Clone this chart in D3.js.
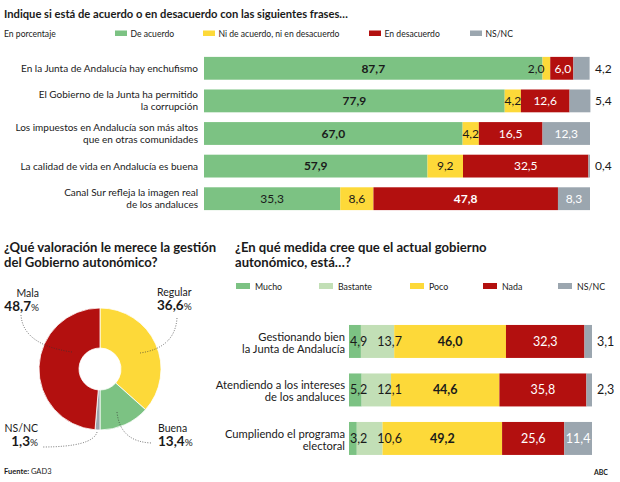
<!DOCTYPE html>
<html><head><meta charset="utf-8">
<script src="https://cdn.jsdelivr.net/npm/d3@7"></script>
<style>
body{margin:0;background:#fff;}
svg{display:block;font-family:Lato, "Open Sans", sans-serif;}
</style></head>
<body>
<svg id="chart" width="620" height="482"></svg>
<script>
// ---------- DATA ----------
const topTitle = "Indique si está de acuerdo o en desacuerdo con las siguientes frases…";
const topSubtitle = "En porcentaje";
const topLegend = ["De acuerdo", "Ni de acuerdo, ni en desacuerdo", "En desacuerdo", "NS/NC"];
const topCategories = [
  ["En la Junta de Andalucía hay enchufismo"],
  ["El Gobierno de la Junta ha permitido", "la corrupción"],
  ["Los impuestos en Andalucía son más altos", "que en otras comunidades"],
  ["La calidad de vida en Andalucía es buena"],
  ["Canal Sur refleja la imagen real", "de los andaluces"]
];
const topAgree    = [87.7, 77.9, 67.0, 57.9, 35.3];
const topNeutral  = [2.0, 4.2, 4.2, 9.2, 8.6];
const topDisagree = [6.0, 12.6, 16.5, 32.5, 47.8];
const topNsnc     = [4.2, 5.4, 12.3, 0.4, 8.3];

const donutTitle = ["¿Qué valoración le merece la gestión", "del Gobierno autonómico?"];
const donutLabels = ["Regular", "Buena", "NS/NC", "Mala"];
const donutValues = [36.6, 13.4, 1.3, 48.7];

const botTitle = ["¿En qué medida cree que el actual gobierno", "autonómico, está…?"];
const botLegend = ["Mucho", "Bastante", "Poco", "Nada", "NS/NC"];
const botCategories = [
  ["Gestionando bien", "la Junta de Andalucía"],
  ["Atendiendo a los intereses", "de los andaluces"],
  ["Cumpliendo el programa", "electoral"]
];
const botMucho    = [4.9, 5.2, 3.2];
const botBastante = [13.7, 12.1, 10.6];
const botPoco     = [46.0, 44.6, 49.2];
const botNada     = [32.3, 35.8, 25.6];
const botNsnc     = [3.1, 2.3, 11.4];

const source = "GAD3";
const credit = "ABC";

// ---------- STYLE ----------
const C = {green:"#7cc283", light:"#c2dfb6", yellow:"#fdd939", red:"#b3100f", gray:"#9ba6af", text:"#1a1a1a"};
const fmt = v => d3.format(".1f")(v).replace(".", ",");

const svg = d3.select("#chart");

// ---------- TOP SECTION ----------
svg.append("text").attr("x", 4).attr("y", 18).attr("font-size", 11.2).attr("font-weight", 700)
  .attr("fill", C.text).text(topTitle);
svg.append("text").attr("x", 4).attr("y", 36.5).attr("font-size", 8.6).attr("fill", C.text).text(topSubtitle);

const topColors = [C.green, C.yellow, C.red, C.gray];
const topLegX = d3.scaleOrdinal().domain(topLegend).range([115, 203, 369, 470]);
topLegend.forEach((k, i) => {
  const g = svg.append("g").attr("transform", `translate(${topLegX(k)},0)`);
  g.append("rect").attr("x", 0).attr("y", 30.5).attr("width", 12).attr("height", 5.5).attr("fill", topColors[i]);
  g.append("text").attr("x", 15.5).attr("y", 36.5).attr("font-size", 8.6).attr("fill", C.text).text(k);
});

const topX = d3.scaleLinear().domain([0, 100]).range([204, 590]);
const topY = d3.scaleBand().domain(d3.range(topCategories.length)).range([52, 215]).paddingInner(0.3).paddingOuter(0.15);
const topSeries = [topAgree, topNeutral, topDisagree, topNsnc];

function drawRows(cats, series, colors, xS, yS, opt) {
  const barLayer = svg.append("g");
  const txtLayer = svg.append("g");
  cats.forEach((lines, r) => {
    const y0 = yS(r), bh = yS.bandwidth(), cy = y0 + bh / 2;
    const t = txtLayer.append("text").attr("x", opt.labelX).attr("text-anchor", "end")
      .attr("font-size", opt.labelSize).attr("fill", C.text);
    const n = lines.length;
    lines.forEach((l, j) => {
      t.append("tspan").attr("x", opt.labelX)
        .attr("y", cy + (j - (n - 1) / 2) * opt.lineH + opt.labelSize * 0.35 + opt.labelDy).text(l);
    });
    const vals = series.map(s => s[r]);
    const maxV = d3.max(vals);
    let acc = 0;
    let prevRight = -Infinity;
    vals.forEach((v, i) => {
      const x0 = xS(acc), x1 = xS(acc + v);
      acc += v;
      barLayer.append("rect").attr("x", x0).attr("y", y0).attr("width", Math.max(0, x1 - x0)).attr("height", bh).attr("fill", colors[i]);
      const w = x1 - x0;
      const last = i === vals.length - 1;
      const txt = txtLayer.append("text").attr("y", cy + opt.numSize * 0.36).attr("font-size", opt.numSize)
        .attr("font-weight", v === maxV ? 700 : 400).text(fmt(v));
      const tw = txt.node().getComputedTextLength();
      if (last && w < 25) {
        txt.attr("x", xS(100) + 5).attr("text-anchor", "start").attr("fill", C.text).attr("font-weight", 400);
        return;
      }
      const light = colors[i] === C.red || colors[i] === C.gray;
      txt.attr("fill", light ? "#fff" : C.text).attr("text-anchor", "start");
      let left;
      if (w < tw + 2 && i === 0) left = x0 + 1;
      else if (w < 10) left = x0 + 2 - tw;
      else left = (x0 + x1) / 2 - tw / 2;
      if (left < prevRight + 10 && w >= 10) left = prevRight + 10;
      txt.attr("x", left);
      prevRight = left + tw;
    });
  });
}
drawRows(topCategories, topSeries, topColors, topX, topY, {labelX: 198, labelSize: 10, lineH: 12, numSize: 12, labelDy: 0});

// ---------- DONUT ----------
donutTitle.forEach((l, i) => svg.append("text").attr("x", 4).attr("y", 252 + i * 15).attr("font-size", 13.1)
  .attr("font-weight", 700).attr("fill", C.text).text(l));
const donutColors = [C.yellow, C.green, C.gray, C.red];
const cx = 100, cyD = 369;
const pie = d3.pie().sort(null).value(d => d)(donutValues);
const arc = d3.arc().innerRadius(21).outerRadius(61);
const gD = svg.append("g").attr("transform", `translate(${cx},${cyD})`);
gD.selectAll("path").data(pie).join("path").attr("d", arc).attr("fill", (d, i) => donutColors[i])
  .attr("stroke", "#fff").attr("stroke-width", 0.8);

// label layout (annotation positions relative to donut center)
const donutAnn = [
  {lx: 57, ly: -73, anchor: "start", line: [[77, -51], [75, -21], [40, -16]]},   // Regular
  {lx: 58, ly: 63, anchor: "start", line: [[17, 43], [20, 73], [52, 74]]},       // Buena
  {lx: -62, ly: 63, anchor: "end", line: [[-3, 63], [-7, 78], [-58, 78]]},       // NS/NC
  {lx: -61, ly: -72, anchor: "end", line: [[-79, -54], [-77, -24], [-28, -17]]}  // Mala
];
donutLabels.forEach((lab, i) => {
  const a = donutAnn[i];
  gD.append("text").attr("x", a.lx).attr("y", a.ly).attr("text-anchor", a.anchor)
    .attr("font-size", 10.5).attr("fill", C.text).text(lab);
  const t = gD.append("text").attr("x", a.lx).attr("y", a.ly + 14).attr("text-anchor", a.anchor).attr("fill", C.text);
  t.append("tspan").attr("font-size", 13.5).attr("font-weight", 700).text(fmt(donutValues[i]));
  t.append("tspan").attr("font-size", 10).text("%");
  const p = a.line;
  gD.append("path").attr("d", `M${p[0][0]},${p[0][1]} Q${p[1][0]},${p[1][1]} ${p[2][0]},${p[2][1]}`)
    .attr("fill", "none").attr("stroke", "#333").attr("stroke-width", 0.7).attr("stroke-dasharray", "1,1.5");
});

// ---------- BOTTOM RIGHT ----------
botTitle.forEach((l, i) => svg.append("text").attr("x", 235).attr("y", 252 + i * 15).attr("font-size", 13.1)
  .attr("font-weight", 700).attr("fill", C.text).text(l));
const botColors = [C.green, C.light, C.yellow, C.red, C.gray];
const botLegX = d3.scaleOrdinal().domain(botLegend).range([236, 319, 410, 483, 558]);
botLegend.forEach((k, i) => {
  const g = svg.append("g").attr("transform", `translate(${botLegX(k)},0)`);
  g.append("rect").attr("x", 0).attr("y", 283).attr("width", 14).attr("height", 6).attr("fill", botColors[i]);
  g.append("text").attr("x", 19).attr("y", 289.5).attr("font-size", 8.8).attr("fill", C.text).text(k);
});
const botX = d3.scaleLinear().domain([0, 100]).range([349, 592]);
const botY = d3.scaleBand().domain(d3.range(botCategories.length)).range([317.2, 462.7]).paddingInner(0.32).paddingOuter(0.16);
drawRows(botCategories, [botMucho, botBastante, botPoco, botNada, botNsnc], botColors, botX, botY,
  {labelX: 345, labelSize: 11.2, lineH: 12, numSize: 12.5, labelDy: 1.5});

// ---------- FOOTER ----------
const f = svg.append("text").attr("x", 4).attr("y", 474).attr("font-size", 7.5).attr("fill", C.text);
f.append("tspan").attr("font-weight", 700).text("Fuente: ");
f.append("tspan").text(source);
svg.append("text").attr("x", 608).attr("y", 475).attr("text-anchor", "end").attr("font-size", 7)
  .attr("font-weight", 700).attr("fill", C.text).text(credit);
</script>
</body></html>
